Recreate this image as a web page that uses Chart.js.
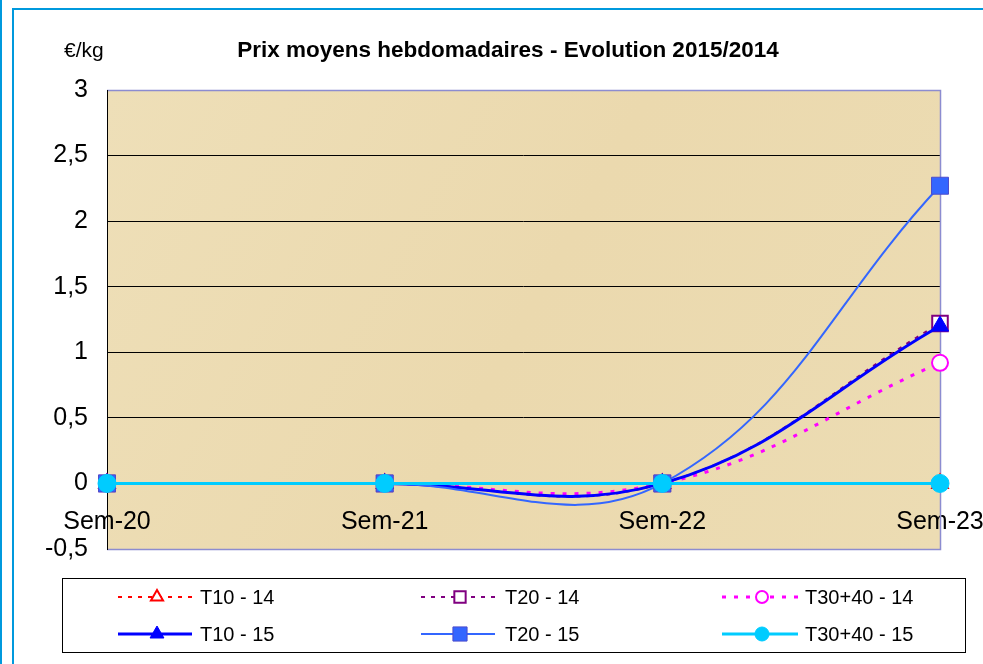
<!DOCTYPE html>
<html>
<head>
<meta charset="utf-8">
<script src="https://cdn.jsdelivr.net/npm/chart.js@4.4.1/dist/chart.umd.min.js"></script>
<style>
    html, body { margin: 0; padding: 0; background: #ffffff; }
    #wrap { position: relative; width: 983px; height: 664px; }
</style>
</head>
<body>
<div id="wrap"><canvas id="prixChart" width="983" height="664"></canvas></div>
<script>
// semaines et prix moyens (écart 2015/2014, €/kg)
const weeks = ['Sem-20', 'Sem-21', 'Sem-22', 'Sem-23'];
const t10_14 = [0, 0, 0, 0];
const t20_14 = [0, 0, 0, 1.22];
const t30_14 = [0, 0, 0, 0.92];
const t10_15 = [0, 0, 0, 1.2];
const t20_15 = [0, 0, 0, 2.27];
const t30_15 = [0, 0, 0, 0];
const yTicks = [-0.5, 0, 0.5, 1, 1.5, 2, 2.5, 3];

const FONT = '"Liberation Sans", Arial, sans-serif';

// dessine un marqueur comme Chart.js (triangle / rect / circle)
function drawMarker(ctx, style, r, x, y, fill, stroke, lw) {
    ctx.save();
    ctx.setLineDash([]);
    ctx.beginPath();
    if (style === 'triangle') {
        ctx.moveTo(x, y - r);
        ctx.lineTo(x + Math.sin(Math.PI * 2 / 3) * r, y + r / 2);
        ctx.lineTo(x - Math.sin(Math.PI * 2 / 3) * r, y + r / 2);
        ctx.closePath();
    } else if (style === 'rect') {
        const s = Math.SQRT1_2 * r;
        ctx.rect(x - s, y - s, 2 * s, 2 * s);
    } else {
        ctx.arc(x, y, r, 0, Math.PI * 2);
    }
    ctx.fillStyle = fill;
    ctx.fill();
    ctx.lineWidth = lw;
    ctx.strokeStyle = stroke;
    ctx.stroke();
    ctx.restore();
}

const backgroundPlugin = {
    id: 'fond',
    beforeDraw(chart) {
        const ctx = chart.ctx;
        const a = chart.chartArea;
        ctx.save();
        ctx.fillStyle = '#ffffff';
        ctx.fillRect(0, 0, chart.width, chart.height);
        // cadres bleus
        ctx.strokeStyle = '#0099dd';
        ctx.lineWidth = 2;
        ctx.beginPath();
        ctx.moveTo(1, 0); ctx.lineTo(1, chart.height);
        ctx.moveTo(13, chart.height); ctx.lineTo(13, 9); ctx.lineTo(chart.width, 9);
        ctx.stroke();
        // zone de tracé (fond parchemin)
        const g = ctx.createLinearGradient(a.left, a.top, a.right, a.bottom);
        g.addColorStop(0, '#eedfb8');
        g.addColorStop(0.5, '#ebd9ae');
        g.addColorStop(1, '#ecdcb3');
        ctx.fillStyle = g;
        ctx.fillRect(a.left, a.top, a.right - a.left, a.bottom - a.top);
        ctx.restore();
    },
    beforeDatasetsDraw(chart) {
        const ctx = chart.ctx;
        const a = chart.chartArea;
        ctx.save();
        ctx.strokeStyle = '#8c8cd0';
        ctx.lineWidth = 1.5;
        ctx.beginPath();
        ctx.moveTo(a.left, a.top + 0.5); ctx.lineTo(a.right + 0.5, a.top + 0.5);
        ctx.lineTo(a.right + 0.5, a.bottom + 0.5); ctx.lineTo(a.left, a.bottom + 0.5);
        ctx.stroke();
        ctx.strokeStyle = '#000000';
        ctx.lineWidth = 1;
        ctx.beginPath();
        ctx.moveTo(a.left + 0.5, a.top); ctx.lineTo(a.left + 0.5, a.bottom + 1);
        ctx.stroke();
        ctx.restore();
    },
    afterDraw(chart) {
        const ctx = chart.ctx;
        ctx.save();
        ctx.fillStyle = '#000000';
        ctx.textBaseline = 'middle';
        ctx.font = 'bold 22.5px ' + FONT;
        ctx.textAlign = 'center';
        ctx.fillText('Prix moyens hebdomadaires - Evolution 2015/2014', 508, 51);
        ctx.font = '21px ' + FONT;
        ctx.textAlign = 'left';
        ctx.fillText('€/kg', 64, 51);

        // légende
        ctx.strokeStyle = '#000000';
        ctx.lineWidth = 1;
        ctx.strokeRect(62.5, 578.5, 903, 74);
        const cols = [[118, 157, 192, 200], [421, 460, 495, 505], [722, 762, 798, 805]];
        const rows = [597, 634];
        ctx.font = '20px ' + FONT;
        chart.data.datasets.forEach((ds, i) => {
            const c = cols[i % 3];
            const y = rows[Math.floor(i / 3)];
            ctx.save();
            ctx.strokeStyle = ds.borderColor;
            ctx.lineWidth = ds.borderWidth;
            ctx.setLineDash(ds.borderDash || []);
            ctx.beginPath();
            ctx.moveTo(c[0], y); ctx.lineTo(c[2], y);
            ctx.stroke();
            ctx.restore();
            drawMarker(ctx, ds.pointStyle, ds.legendRadius, c[1], y,
                ds.pointBackgroundColor, ds.pointBorderColor, ds.pointBorderWidth);
            ctx.fillStyle = '#000000';
            ctx.fillText(ds.label, c[3], y + 1);
        });
        ctx.restore();
    }
};

const ctx = document.getElementById('prixChart').getContext('2d');
const prixChart = new Chart(ctx, {
    type: 'line',
    data: {
        labels: weeks,
        datasets: [
            {label: 'T10 - 14', data: t10_14, borderColor: '#ff0000', borderWidth: 2, borderDash: [4, 6],
             pointStyle: 'triangle', pointRadius: 9, legendRadius: 7, pointBackgroundColor: '#ffffff',
             pointBorderColor: '#ff0000', pointBorderWidth: 2, order: 6},
            {label: 'T20 - 14', data: t20_14, borderColor: '#800080', borderWidth: 2, borderDash: [4, 6],
             pointStyle: 'rect', pointRadius: 11, legendRadius: 8, pointBackgroundColor: '#ffffff',
             pointBorderColor: '#800080', pointBorderWidth: 2, order: 5},
            {label: 'T30+40 - 14', data: t30_14, borderColor: '#ff00ff', borderWidth: 3, borderDash: [4, 8],
             pointStyle: 'circle', pointRadius: 8, legendRadius: 6, pointBackgroundColor: '#ffffff',
             pointBorderColor: '#ff00ff', pointBorderWidth: 2, order: 4},
            {label: 'T10 - 15', data: t10_15, borderColor: '#0000ff', borderWidth: 3,
             pointStyle: 'triangle', pointRadius: 10, legendRadius: 8, pointBackgroundColor: '#0000ff',
             pointBorderColor: '#0000ff', pointBorderWidth: 1, order: 3},
            {label: 'T20 - 15', data: t20_15, borderColor: '#3366ff', borderWidth: 2,
             pointStyle: 'rect', pointRadius: 12, legendRadius: 10, pointBackgroundColor: '#3366ff',
             pointBorderColor: '#4d4dcc', pointBorderWidth: 1, order: 2},
            {label: 'T30+40 - 15', data: t30_15, borderColor: '#00ccff', borderWidth: 3,
             pointStyle: 'circle', pointRadius: 9, legendRadius: 7, pointBackgroundColor: '#00ccff',
             pointBorderColor: '#00ccff', pointBorderWidth: 1, order: 1}
        ]
    },
    options: {
        responsive: false,
        animation: false,
        devicePixelRatio: 1,
        layout: { padding: { top: 90, bottom: 115, right: 43, left: 0 } },
        elements: { line: { tension: 0.4 } },
        plugins: {
            legend: { display: false },
            title: { display: false },
            tooltip: { enabled: false }
        },
        scales: {
            x: {
                type: 'category',
                position: { y: 0 },
                offset: false,
                grid: { display: false },
                border: { display: false },
                ticks: {
                    color: '#000000',
                    font: { family: FONT, size: 25 },
                    padding: 16,
                    maxRotation: 0,
                    autoSkip: false
                },
                afterFit: (s) => { s.height = 0; s.paddingLeft = 0; s.paddingRight = 0; }
            },
            y: {
                min: yTicks[0],
                max: yTicks[yTicks.length - 1],
                afterBuildTicks: (s) => { s.ticks = yTicks.map(v => ({value: v})); },
                grid: {
                    color: (c) => (c.tick && (c.tick.value === 3 || c.tick.value === -0.5)) ? 'rgba(0,0,0,0)' : '#000000',
                    lineWidth: 1,
                    drawTicks: false
                },
                border: { display: false },
                ticks: {
                    color: '#000000',
                    font: { family: FONT, size: 25 },
                    padding: 19,
                    callback: (v) => String(v).replace('.', ',')
                },
                afterFit: (s) => { s.width = 107; s.paddingTop = 0; s.paddingBottom = 0; }
            }
        }
    },
    plugins: [backgroundPlugin]
});
</script>
</body>
</html>
